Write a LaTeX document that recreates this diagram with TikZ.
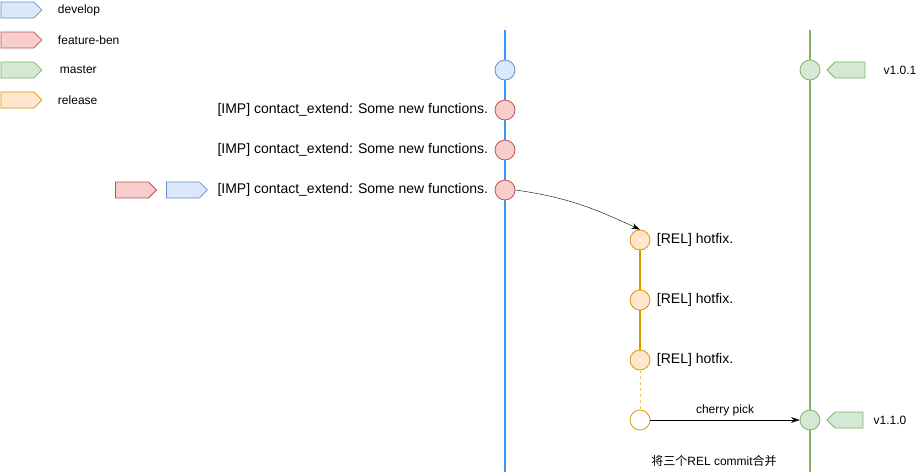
\documentclass[tikz,border=0pt]{standalone}
\usepackage{fontspec}
\setmainfont{Liberation Sans}
\newfontfamily\cjk{Noto Sans CJK SC}
\usetikzlibrary{shapes.symbols, arrows.meta, positioning}

\definecolor{devfill}{HTML}{DAE8FC}
\definecolor{devdraw}{HTML}{6C8EBF}
\definecolor{devline}{HTML}{3399FF}
\definecolor{featfill}{HTML}{F8CECC}
\definecolor{featdraw}{HTML}{B85450}
\definecolor{mastfill}{HTML}{D5E8D4}
\definecolor{mastdraw}{HTML}{82B366}
\definecolor{relfill}{HTML}{FFE6CC}
\definecolor{reldraw}{HTML}{D79B00}

\begin{document}
\begin{tikzpicture}[x=1pt, y=-1pt, font=\fontsize{12}{14}\selectfont]
    \tikzset{
        commit/.style = {circle, draw, minimum size=20pt, inner sep=0pt, line width=0.8pt},
        devcommit/.style = {commit, fill=devfill, draw=devdraw},
        featcommit/.style = {commit, fill=featfill, draw=featdraw},
        relcommit/.style = {commit, fill=relfill, draw=reldraw},
        mastcommit/.style = {commit, fill=mastfill, draw=mastdraw},
        msg/.style = {font=\fontsize{14}{16}\selectfont},
        tagright/.style = {signal, signal to=east, signal pointer angle=90, minimum width=41pt, minimum height=16pt, inner sep=0pt, line width=0.8pt},
        tagleft/.style = {signal, signal to=west, signal pointer angle=90, minimum width=38pt, minimum height=16pt, inner sep=0pt, line width=0.8pt},
        branch/.style = {line width=2pt},
        line/.style = {draw, -{Stealth[length=3mm, width=2mm]}}
    }
    \useasboundingbox (0,0) rectangle (920,472);

    % legend
    \node[tagright, fill=devfill, draw=devdraw, anchor=west] (lgdev) at (0.5,10) {};
    \node[tagright, fill=featfill, draw=featdraw, anchor=west] (lgfeat) at (0.5,40) {};
    \node[tagright, fill=mastfill, draw=mastdraw, anchor=west] (lgmast) at (0.5,70) {};
    \node[tagright, fill=relfill, draw=reldraw, anchor=west] (lgrel) at (0.5,100) {};
    \node[right=12pt of lgdev] {develop};
    \node[right=12pt of lgfeat] {feature-ben};
    \node[right=14pt of lgmast] {master};
    \node[right=12pt of lgrel] {release};

    % branch lines
    \coordinate (devtop) at (505,30);
    \coordinate (devbot) at (505,472);
    \coordinate (masttop) at (810,30);
    \coordinate (mastbot) at (810,472);
    \draw[branch, devline] (devtop) -- (devbot);
    \draw[branch, mastdraw] (masttop) -- (mastbot);

    % develop / feature-ben
    \node[devcommit] (d1) at (505,70) {};
    \node[featcommit] (f1) at (505,110) {};
    \node[featcommit] (f2) at (505,150) {};
    \node[featcommit] (f3) at (505,190) {};
    \node[msg, left=3pt of f1] (f1msg) {[IMP] contact\_extend: Some new functions.};
    \node[msg, left=3pt of f2] (f2msg) {[IMP] contact\_extend: Some new functions.};
    \node[msg, left=3pt of f3] (f3msg) {[IMP] contact\_extend: Some new functions.};
    \node[tagright, fill=devfill, draw=devdraw, left=6pt of f3msg] (f3dev) {};
    \node[tagright, fill=featfill, draw=featdraw, left=9pt of f3dev] (f3feat) {};

    % release
    \node[relcommit] (r1) at (640,240) {};
    \node[relcommit] (r2) at (640,300) {};
    \node[relcommit] (r3) at (640,360) {};
    \node[commit, draw=reldraw, fill=white] (r4) at (640,420) {};
    \node[msg, right=3pt of r1] {[REL] hotfix.};
    \node[msg, right=3pt of r2] {[REL] hotfix.};
    \node[msg, right=3pt of r3] {[REL] hotfix.};
    \draw[branch, reldraw] (r1) -- (r2) -- (r3);
    \draw[reldraw!60, line width=0.6pt, dash pattern=on 3pt off 3pt] (r3) -- (r4);

    % master
    \node[mastcommit] (m1) at (810,70) {};
    \node[mastcommit] (m2) at (810,420) {};
    \node[tagleft, fill=mastfill, draw=mastdraw, right=6pt of m1] (m1tag) {};
    \node[tagleft, fill=mastfill, draw=mastdraw, minimum width=36pt, right=6pt of m2] (m2tag) {};
    \node[right=14.7pt of m1tag] {v1.0.1};
    \node[right=6.7pt of m2tag] {v1.1.0};

    \path[line] (f3.east) to[out=-8, in=155] (r1.north);
    \path[line] (r4) -- node[above] {cherry pick} (m2);
    \node at (714,461) {{\cjk 将三个}REL commit{\cjk 合并}};
\end{tikzpicture}
\end{document}
